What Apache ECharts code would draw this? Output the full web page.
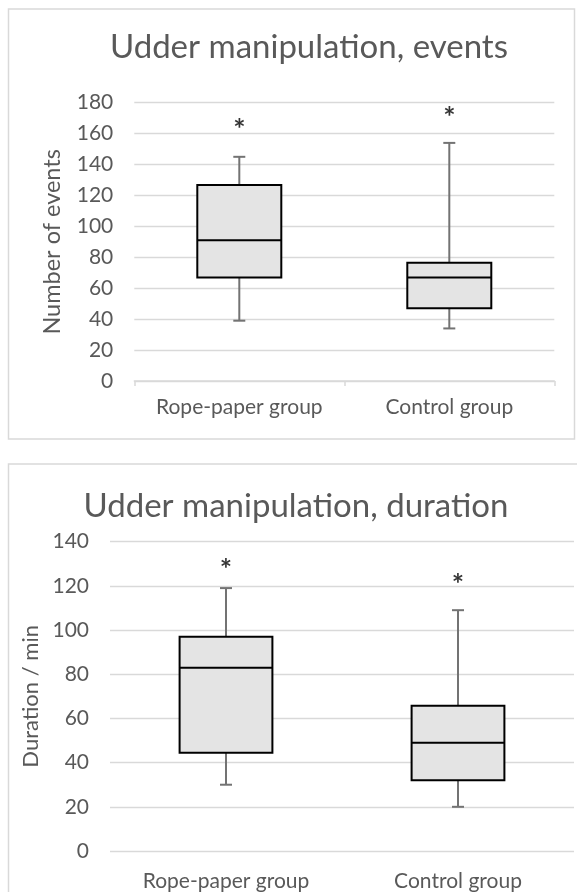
<!DOCTYPE html>
<html><head><meta charset="utf-8">
<script src="https://cdn.jsdelivr.net/npm/echarts@6/dist/echarts.min.js"></script>
<style>html,body{margin:0;padding:0;background:#fff;overflow:hidden}#c{width:577px;height:892px}</style>
</head><body><div id="c"></div>
<script>
// ---- data ----
const categories = ['Rope-paper group', 'Control group'];

const eventsMin    = [39, 34];
const eventsQ1     = [67, 47];
const eventsMedian = [91, 67];
const eventsQ3     = [126.7, 76.5];
const eventsMax    = [145, 154];
const eventsStar   = [166.7, 174.2];

const durMin    = [30, 20];
const durQ1     = [44.5, 32];
const durMedian = [83, 49];
const durQ3     = [97, 65.7];
const durMax    = [119, 109];
const durStar   = [130, 123.2];

const eventsAxis = {min: 0, max: 180, interval: 20};
const durAxis    = {min: 0, max: 140, interval: 20};

const titles = ['Udder manipulation, events', 'Udder manipulation, duration'];
const yNames = ['Number of events', 'Duration / min'];

// ---- styles ----
const FONT = 'Lato';
const TXT = '#595959';
const GRID = '#d9d9d9';

function whiskers(params, api) {
  const x = api.value(0);
  const pMin = api.coord([x, api.value(1)]);
  const pQ1 = api.coord([x, api.value(2)]);
  const pQ3 = api.coord([x, api.value(3)]);
  const pMax = api.coord([x, api.value(4)]);
  const cap = 6;
  const style = {stroke: '#737373', lineWidth: 2};
  return {type: 'group', children: [
    {type: 'line', shape: {x1: pMin[0], y1: pMin[1], x2: pQ1[0], y2: pQ1[1]}, style},
    {type: 'line', shape: {x1: pQ3[0], y1: pQ3[1], x2: pMax[0], y2: pMax[1]}, style},
    {type: 'line', shape: {x1: pMin[0] - cap, y1: pMin[1], x2: pMin[0] + cap, y2: pMin[1]}, style},
    {type: 'line', shape: {x1: pMax[0] - cap, y1: pMax[1], x2: pMax[0] + cap, y2: pMax[1]}, style}
  ]};
}

function seriesFor(idx, mn, q1, med, q3, mx, star) {
  return [
    {
      type: 'custom', xAxisIndex: idx, yAxisIndex: idx, z: 2,
      renderItem: whiskers,
      encode: {x: 0, y: [1, 2, 3, 4]},
      data: categories.map((c, i) => [i, mn[i], q1[i], q3[i], mx[i]])
    },
    {
      type: 'boxplot', xAxisIndex: idx, yAxisIndex: idx, z: 3,
      boxWidth: ['40%', '40%'],
      itemStyle: {color: '#e4e4e4', borderColor: '#000', borderWidth: 2},
      data: categories.map((c, i) => [q1[i], q1[i], med[i], q3[i], q3[i]])
    },
    {
      type: 'scatter', xAxisIndex: idx, yAxisIndex: idx, z: 4,
      symbolSize: 2, itemStyle: {color: 'rgba(0,0,0,0)'},
      label: {show: true, position: 'inside', formatter: '*', color: '#000',
              fontFamily: FONT, fontSize: 29, fontWeight: 'bold', offset: [0, 6]},
      data: categories.map((c, i) => [i, star[i]])
    }
  ];
}

function xAxisFor(idx, showLine) {
  return {
    type: 'category', gridIndex: idx, data: categories,
    axisLine: {show: showLine, lineStyle: {color: GRID, width: 1.5}},
    axisTick: {show: showLine, length: 5, lineStyle: {color: GRID, width: 1.5}},
    axisLabel: {interval: 0, color: TXT, fontFamily: FONT, fontSize: 21, margin: idx === 0 ? 16 : 20},
    splitLine: {show: false}
  };
}

function yAxisFor(idx, ax, gap, nameSize) {
  return {
    type: 'value', gridIndex: idx, min: ax.min, max: ax.max, interval: ax.interval,
    axisLine: {show: false}, axisTick: {show: false},
    splitLine: {lineStyle: {color: GRID, width: 1.3}},
    axisLabel: {color: TXT, fontFamily: FONT, fontSize: 21, margin: 21},
    name: yNames[idx], nameLocation: 'middle', nameRotate: 90, nameGap: gap,
    nameTextStyle: {color: TXT, fontFamily: FONT, fontSize: nameSize}
  };
}

const chart = echarts.init(document.getElementById('c'), null, {renderer: 'canvas'});
chart.setOption({
  animation: false,
  backgroundColor: '#fff',
  graphic: [
    {type: 'rect', shape: {x: 8.5, y: 9, width: 566, height: 430}, style: {fill: 'none', stroke: GRID, lineWidth: 1.5}, z: -1},
    {type: 'rect', shape: {x: 8.5, y: 464, width: 620, height: 500}, style: {fill: 'none', stroke: GRID, lineWidth: 1.5}, z: -1},
    {type: 'text', x: 309, y: 47, style: {text: titles[0], font: '33px ' + FONT, fill: TXT, align: 'center', verticalAlign: 'middle'}},
    {type: 'text', x: 296, y: 506, style: {text: titles[1], font: '33px ' + FONT, fill: TXT, align: 'center', verticalAlign: 'middle'}}
  ],
  grid: [
    {left: 134.3, top: 102.7, width: 420, height: 278.3},
    {left: 110, top: 541.7, width: 464, height: 309.8}
  ],
  xAxis: [xAxisFor(0, true), xAxisFor(1, false)],
  yAxis: [yAxisFor(0, eventsAxis, 70, 23.5), yAxisFor(1, durAxis, 63, 22)],
  series: [].concat(
    seriesFor(0, eventsMin, eventsQ1, eventsMedian, eventsQ3, eventsMax, eventsStar),
    seriesFor(1, durMin, durQ1, durMedian, durQ3, durMax, durStar)
  )
});
</script></body></html>
